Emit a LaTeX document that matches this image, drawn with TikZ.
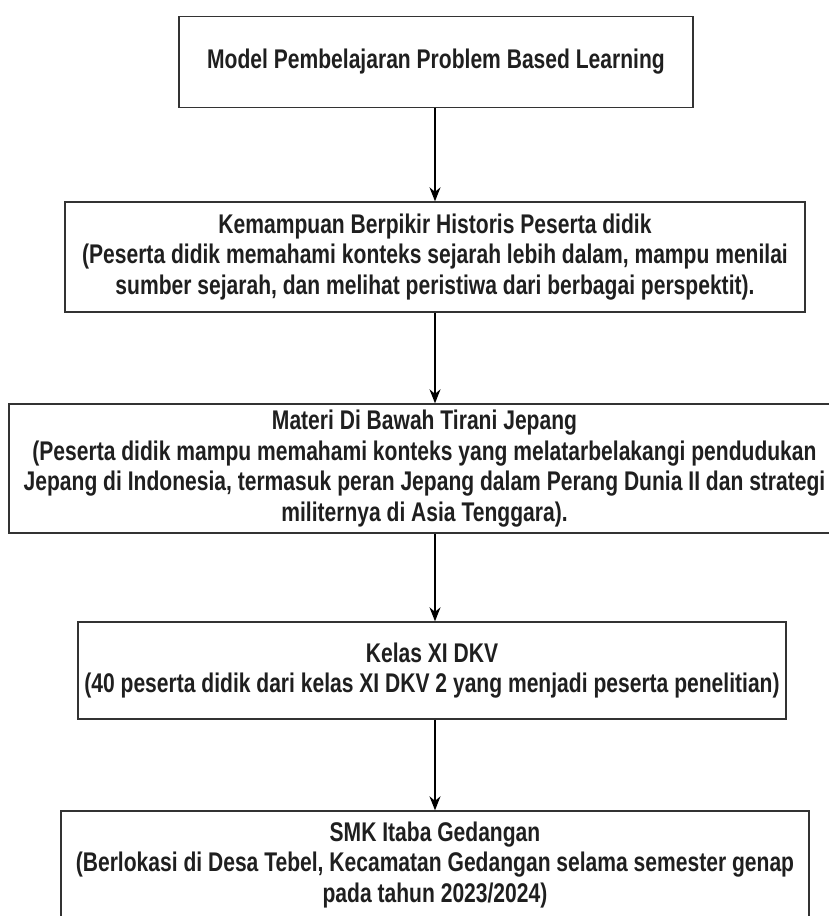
\documentclass[tikz,border=0pt]{standalone}
\usepackage{fontspec}
\setmainfont{Liberation Sans}[FakeStretch=0.78]
\usetikzlibrary{arrows.meta}
\begin{document}
\begin{tikzpicture}[x=1pt,y=-1pt,
  box/.style={draw=black!80,line width=1.4pt,inner sep=0pt,align=center,
    font=\fontsize{27pt}{30.5pt}\selectfont\bfseries,text=black!88},
  arr/.style={draw=black,line width=1.3pt,-{Stealth[length=14pt,width=11pt]}}]
\useasboundingbox (0,0) rectangle (829,916);
\coordinate (ax) at (435,0);
\node[box,minimum width=514pt,minimum height=91pt] (b1) at (436,62)
  {Model Pembelajaran Problem Based Learning};
\node[box,minimum width=740pt,minimum height=110pt] (b2) at (435,257)
  {Kemampuan Berpikir Historis Peserta didik\\(Peserta didik memahami konteks sejarah lebih dalam, mampu menilai\\sumber sejarah, dan melihat peristiwa dari berbagai perspektit).};
\node[box,minimum width=831pt,minimum height=129pt] (b3) at (424.5,468.5)
  {Materi Di Bawah Tirani Jepang\\(Peserta didik mampu memahami konteks yang melatarbelakangi pendudukan\\Jepang di Indonesia, termasuk peran Jepang dalam Perang Dunia II dan strategi\\militernya di Asia Tenggara).};
\node[box,minimum width=708pt,minimum height=97pt] (b4) at (432,670.5)
  {Kelas XI DKV\\(40 peserta didik dari kelas XI DKV 2 yang menjadi peserta penelitian)};
\node[box,minimum width=748pt,minimum height=108pt] (b5) at (435,865)
  {SMK Itaba Gedangan\\(Berlokasi di Desa Tebel, Kecamatan Gedangan selama semester genap\\pada tahun 2023/2024)};
\draw[arr] (b1.south -| ax) -- (b2.north -| ax);
\draw[arr] (b2.south -| ax) -- (b3.north -| ax);
\draw[arr] (b3.south -| ax) -- (b4.north -| ax);
\draw[arr] (b4.south -| ax) -- (b5.north -| ax);
\end{tikzpicture}
\end{document}
